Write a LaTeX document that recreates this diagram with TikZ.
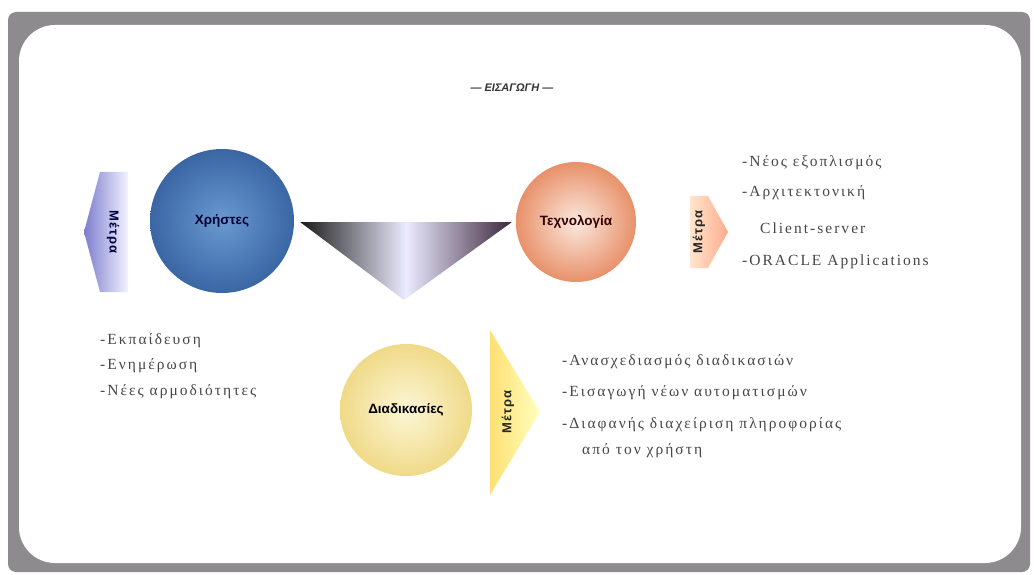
\documentclass[tikz,border=0pt]{standalone}
\usepackage{fontspec}
\setmainfont{Liberation Serif}
\setsansfont{Liberation Sans}
\newfontfamily\listfont[LetterSpace=13]{Liberation Serif}
\newfontfamily\tagfont[LetterSpace=8]{Liberation Sans}
\usepackage{xcolor}
\usetikzlibrary{positioning,calc}

\definecolor{framegray}{HTML}{8E8B8E}
\definecolor{userin}{HTML}{6A98D0}
\definecolor{userout}{HTML}{3A67A4}
\definecolor{techin}{HTML}{FBE8DE}
\definecolor{techout}{HTML}{E8916A}
\definecolor{procin}{HTML}{FCF6D6}
\definecolor{procout}{HTML}{F0DA88}

\begin{document}
\begin{tikzpicture}[
    x=1pt,y=-1pt,
    ball/.style={circle,inner sep=0pt,shade,font=\sffamily\bfseries\fontsize{13.5}{15}\selectfont},
    item/.style={anchor=west,inner sep=0pt,text=black!72,font=\listfont\fontsize{15.5}{17}\selectfont},
    tag/.style={rotate=#1,inner sep=0pt,font=\tagfont\bfseries\fontsize{13}{15}\selectfont}
]
\useasboundingbox (0,0) rectangle (1034,575);
\fill[framegray,rounded corners=8pt] (8,12) rectangle (1030,572);
\fill[white,rounded corners=36pt] (19,25) rectangle (1021,563);

\node[font=\sffamily\bfseries\itshape\fontsize{11}{13}\selectfont,text=black!80] (title) at (512,88) {— ΕΙΣΑΓΩΓΗ —};

% funnel between users and technology
\coordinate (fl) at (300,222);
\coordinate (fr) at (512,222);
\coordinate (fb) at (404,300);
\shade[left color=black!90,right color=black!75!violet!70!gray,middle color=white!92!blue] (fl) -- (fr) -- (fb) -- cycle;

\node[ball,inner color=userin,outer color=userout,minimum size=144pt,text=blue!20!black] (users) at (222,221) {Χρήστες};
\node[ball,inner color=techin,outer color=techout,minimum size=120pt,text=red!20!black] (tech) at (576,222) {Τεχνολογία};
\node[ball,inner color=procin,outer color=procout,minimum size=132pt,text=black] (proc) at (406,410) {Διαδικασίες};

% arrows
\shade[left color=blue!45!gray!70,right color=blue!5] (100,172) -- (128,172) -- (128,292) -- (100,292) -- (84,232) -- cycle;
\shade[left color=orange!20,right color=orange!55!red!45] (690,196) -- (708,196) -- (728,232) -- (708,268) -- (690,268) -- cycle;
\shade[left color=orange!45!yellow!55,right color=yellow!25] (490,330) -- (540,412) -- (490,495) -- cycle;

\node[tag=-90,text=blue!25!black] (userstag) at (113,232) {Μέτρα};
\node[tag=90,text=black!85] (techtag) at (699,232) {Μέτρα};
\node[tag=90,text=black!85] (proctag) at (508,412) {Μέτρα};

% lists
\node[item] (t1) at (742,163) {-Νέος εξοπλισμός};
\node[item,below=30pt of t1.west,anchor=west] (t2) {-Αρχιτεκτονική};
\node[item,below right=35pt and 18pt of t2.west,anchor=west] (t3) {Client-server};
\node[item,below=69pt of t2.west,anchor=west] (t4) {-ORACLE Applications};

\node[item] (u1) at (100,341) {-Εκπαίδευση};
\node[item,below=25pt of u1.west,anchor=west] (u2) {-Ενημέρωση};
\node[item,below=26pt of u2.west,anchor=west] (u3) {-Νέες αρμοδιότητες};

\node[item] (p1) at (562,362) {-Ανασχεδιασμός διαδικασιών};
\node[item,below=31pt of p1.west,anchor=west] (p2) {-Εισαγωγή νέων αυτοματισμών};
\node[item,below=32pt of p2.west,anchor=west] (p3) {-Διαφανής διαχείριση πληροφορίας};
\node[item,below right=26pt and 20pt of p3.west,anchor=west] (p4) {από τον χρήστη};
\end{tikzpicture}
\end{document}
